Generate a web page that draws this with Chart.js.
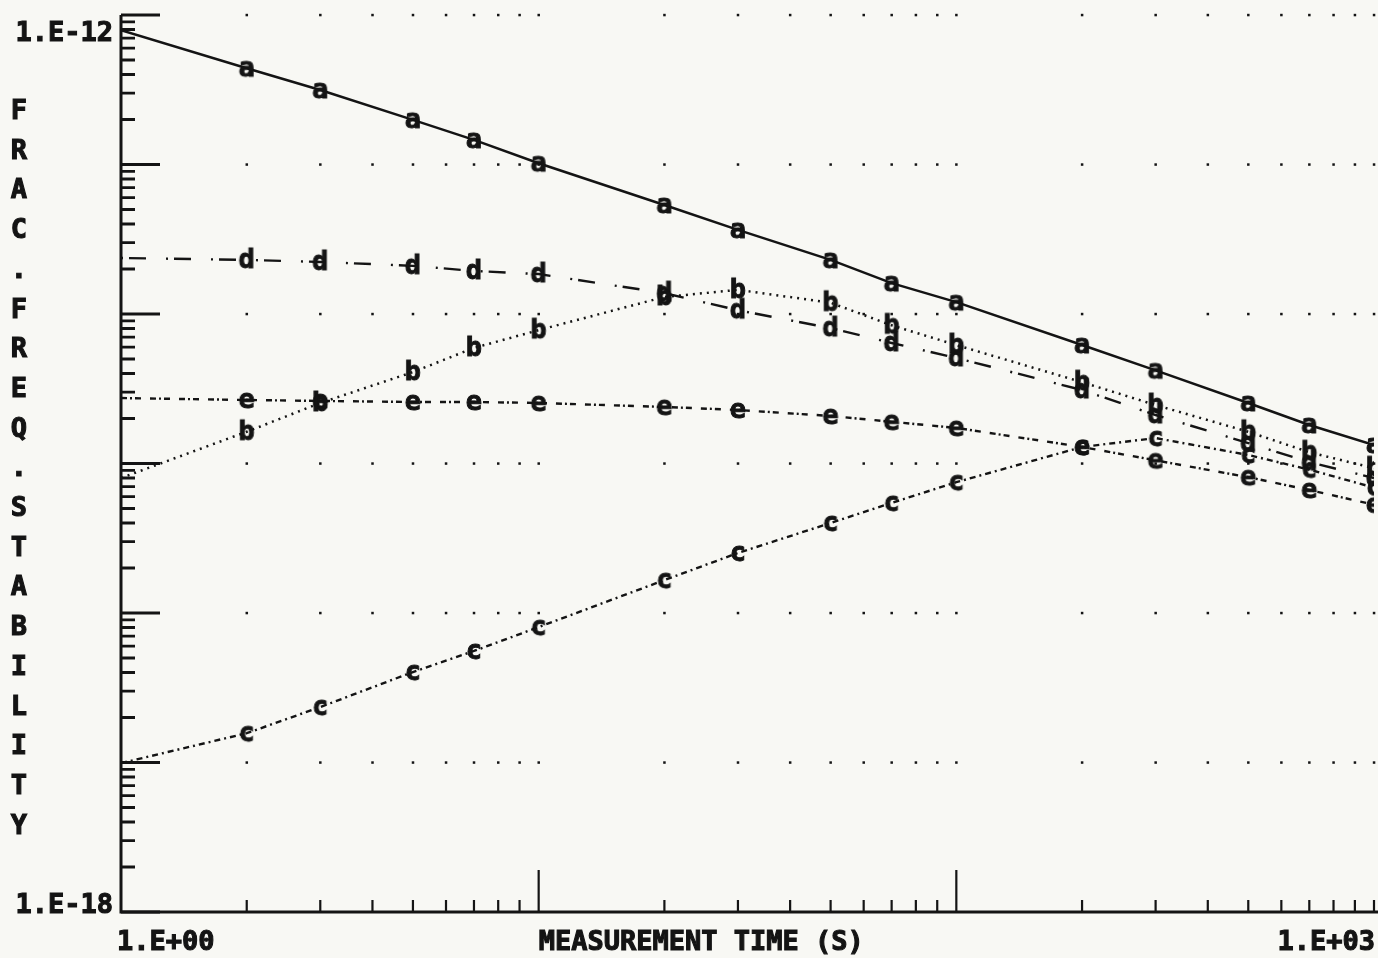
<!DOCTYPE html>
<html>
<head>
<meta charset="utf-8">
<title>Frac. freq. stability</title>
<script src="https://cdn.jsdelivr.net/npm/chart.js@4.4.1/dist/chart.umd.min.js"></script>
<style>
  html, body { margin: 0; padding: 0; background: #f8f8f4; }
  canvas { display: block; }
</style>
</head>
<body>
<canvas id="stabilityChart" width="1378" height="958"></canvas>
<script>
// measurement times (s)
var tau = [1, 2, 3, 5, 7, 10, 20, 30, 50, 70, 100, 200, 300, 500, 700, 1000];

// fractional frequency stability for each curve
var sigmaA = [7.9e-13, 4.4e-13, 3.15e-13, 1.99e-13, 1.46e-13, 1.02e-13, 5.36e-14, 3.65e-14,
              2.30e-14, 1.61e-14, 1.20e-14, 6.2e-15, 4.2e-15, 2.54e-15, 1.81e-15, 1.33e-15];
var sigmaB = [8.0e-16, 1.63e-15, 2.54e-15, 4.09e-15, 5.93e-15, 7.8e-15, 1.30e-14, 1.45e-14,
              1.19e-14, 8.4e-15, 6.2e-15, 3.5e-15, 2.46e-15, 1.63e-15, 1.19e-15, 9.3e-16];
var sigmaC = [9.9e-18, 1.57e-17, 2.35e-17, 4.03e-17, 5.57e-17, 8.05e-17, 1.66e-16, 2.52e-16,
              4.0e-16, 5.45e-16, 7.5e-16, 1.29e-15, 1.48e-15, 1.14e-15, 9.1e-16, 6.9e-16];
var sigmaD = [2.37e-14, 2.30e-14, 2.23e-14, 2.10e-14, 1.94e-14, 1.85e-14, 1.38e-14, 1.06e-14,
              8.05e-15, 6.4e-15, 5.08e-15, 3.1e-15, 2.11e-15, 1.37e-15, 1.02e-15, 8.0e-16];
var sigmaE = [2.74e-15, 2.66e-15, 2.62e-15, 2.58e-15, 2.58e-15, 2.54e-15, 2.39e-15, 2.28e-15,
              2.08e-15, 1.90e-15, 1.73e-15, 1.29e-15, 1.05e-15, 8.1e-16, 6.65e-16, 5.3e-16];

var seriesLetters = ['a', 'b', 'c', 'd', 'e'];
var yTickLabels = ['1.E-12', '1.E-18'];
var xTickLabels = ['1.E+00', '1.E+03'];
var xTitle = 'MEASUREMENT TIME (S)';
var yTitle = 'FRAC.FREQ.STABILITY';

var INK = '#141414';
var PAPER = '#f8f8f4';
var FONT = 'bold 27px "DejaVu Sans Mono"';

// heavy plotter-style text: fill plus a thin outline
function inkText(ctx, s, x, y) {
    ctx.fillText(s, x, y);
    ctx.strokeText(s, x, y);
}

// plotter letter used as the point marker
function letterStyle(ch) {
    var c = document.createElement('canvas');
    c.width = 28;
    c.height = 36;
    var g = c.getContext('2d');
    g.fillStyle = INK;
    g.strokeStyle = INK;
    g.lineWidth = 1;
    g.font = 'bold 27px "DejaVu Sans Mono"';
    g.textAlign = 'center';
    g.textBaseline = 'alphabetic';
    inkText(g, ch, 14, 25.5);
    return c;
}

function makeSeries(values, letter, dash, width) {
    return {
        label: letter,
        data: tau.map(function (t, i) { return { x: t, y: values[i] }; }),
        borderColor: INK,
        borderWidth: width,
        borderDash: dash,
        tension: 0,
        fill: false,
        pointStyle: letterStyle(letter),
        pointRadius: tau.map(function (t, i) { return i === 0 ? 0 : 3; }),
        pointHitRadius: 0
    };
}

// decade rows and log tick positions
var yDecades = [1e-17, 1e-16, 1e-15, 1e-14, 1e-13, 1e-12];
var xTicks = [];
[1, 10, 100].forEach(function (d) {
    for (var m = 1; m <= 9; m++) xTicks.push(m * d);
});
xTicks.push(1000);
var yTicks = [];
for (var e = -18; e <= -13; e++) {
    for (var m = 1; m <= 9; m++) yTicks.push({ v: m * Math.pow(10, e), major: m === 1 });
}
yTicks.push({ v: 1e-12, major: true });

var plotterAxes = {
    id: 'plotterAxes',
    beforeDraw: function (chart) {
        var ctx = chart.ctx;
        ctx.save();
        ctx.fillStyle = PAPER;
        ctx.fillRect(0, 0, chart.width, chart.height);
        ctx.restore();
    },
    beforeDatasetsDraw: function (chart) {
        var ctx = chart.ctx;
        var xs = chart.scales.x, ys = chart.scales.y, area = chart.chartArea;
        ctx.save();

        // dotted rows at each decade
        ctx.fillStyle = INK;
        yDecades.forEach(function (v) {
            var py = ys.getPixelForValue(v);
            xTicks.forEach(function (t) {
                if (t === 1) return;
                var px = xs.getPixelForValue(t);
                ctx.fillRect(px - 1.2, py - 1.2, 2.5, 2.5);
            });
        });

        // axis lines
        ctx.strokeStyle = INK;
        ctx.lineWidth = 3;
        ctx.beginPath();
        ctx.moveTo(area.left, area.top);
        ctx.lineTo(area.left, area.bottom);
        ctx.lineTo(area.right + 4, area.bottom);
        ctx.stroke();

        // inward ticks on the left axis
        ctx.lineWidth = 2.8;
        ctx.beginPath();
        yTicks.forEach(function (t) {
            var py = ys.getPixelForValue(t.v);
            ctx.moveTo(area.left, py);
            ctx.lineTo(area.left + (t.major ? 39 : 14), py);
        });
        ctx.stroke();

        // inward ticks on the bottom axis
        ctx.lineWidth = 2.2;
        ctx.beginPath();
        xTicks.forEach(function (t) {
            if (t === 1) return;
            var px = xs.getPixelForValue(t);
            var major = (t === 10 || t === 100);
            ctx.moveTo(px, area.bottom);
            ctx.lineTo(px, area.bottom - (major ? 42 : 12));
        });
        ctx.stroke();
        ctx.restore();
    },
    afterDraw: function (chart) {
        var ctx = chart.ctx;
        var xs = chart.scales.x, area = chart.chartArea;
        ctx.save();
        ctx.fillStyle = INK;
        ctx.strokeStyle = INK;
        ctx.lineWidth = 1.1;
        ctx.font = FONT;
        ctx.textBaseline = 'alphabetic';

        ctx.textAlign = 'right';
        inkText(ctx, yTickLabels[0], area.left - 8, area.top + 26);
        inkText(ctx, yTickLabels[1], area.left - 8, area.bottom + 1);

        ctx.textAlign = 'left';
        inkText(ctx, xTickLabels[0], area.left - 4, area.bottom + 38);
        inkText(ctx, xTitle, xs.getPixelForValue(10), area.bottom + 38);
        ctx.textAlign = 'right';
        inkText(ctx, xTickLabels[1], area.right + 1, area.bottom + 38);

        // vertical title, one letter per line
        ctx.textAlign = 'center';
        for (var i = 0; i < yTitle.length; i++) {
            inkText(ctx, yTitle[i], 19, 119 + i * 39.7);
        }
        ctx.restore();
    }
};

var ctx = document.getElementById('stabilityChart').getContext('2d');
var stabilityChart = new Chart(ctx, {
    type: 'line',
    data: {
        datasets: [
            makeSeries(sigmaA, seriesLetters[0], [], 2.5),
            makeSeries(sigmaB, seriesLetters[1], [2, 5], 2.5),
            makeSeries(sigmaC, seriesLetters[2], [6, 4, 2, 4], 2.4),
            makeSeries(sigmaD, seriesLetters[3], [2, 6, 17, 20], 2.4),
            makeSeries(sigmaE, seriesLetters[4], [6, 3, 2, 3, 6, 9], 2.4)
        ]
    },
    options: {
        responsive: false,
        devicePixelRatio: 1,
        animation: false,
        events: [],
        layout: {
            autoPadding: false,
            padding: { left: 121, right: 4, top: 15, bottom: 46 }
        },
        plugins: {
            legend: { display: false },
            tooltip: { enabled: false }
        },
        scales: {
            x: { type: 'logarithmic', min: 1, max: 1000, display: false },
            y: { type: 'logarithmic', min: 1e-18, max: 1e-12, display: false }
        }
    },
    plugins: [plotterAxes]
});
</script>
</body>
</html>
